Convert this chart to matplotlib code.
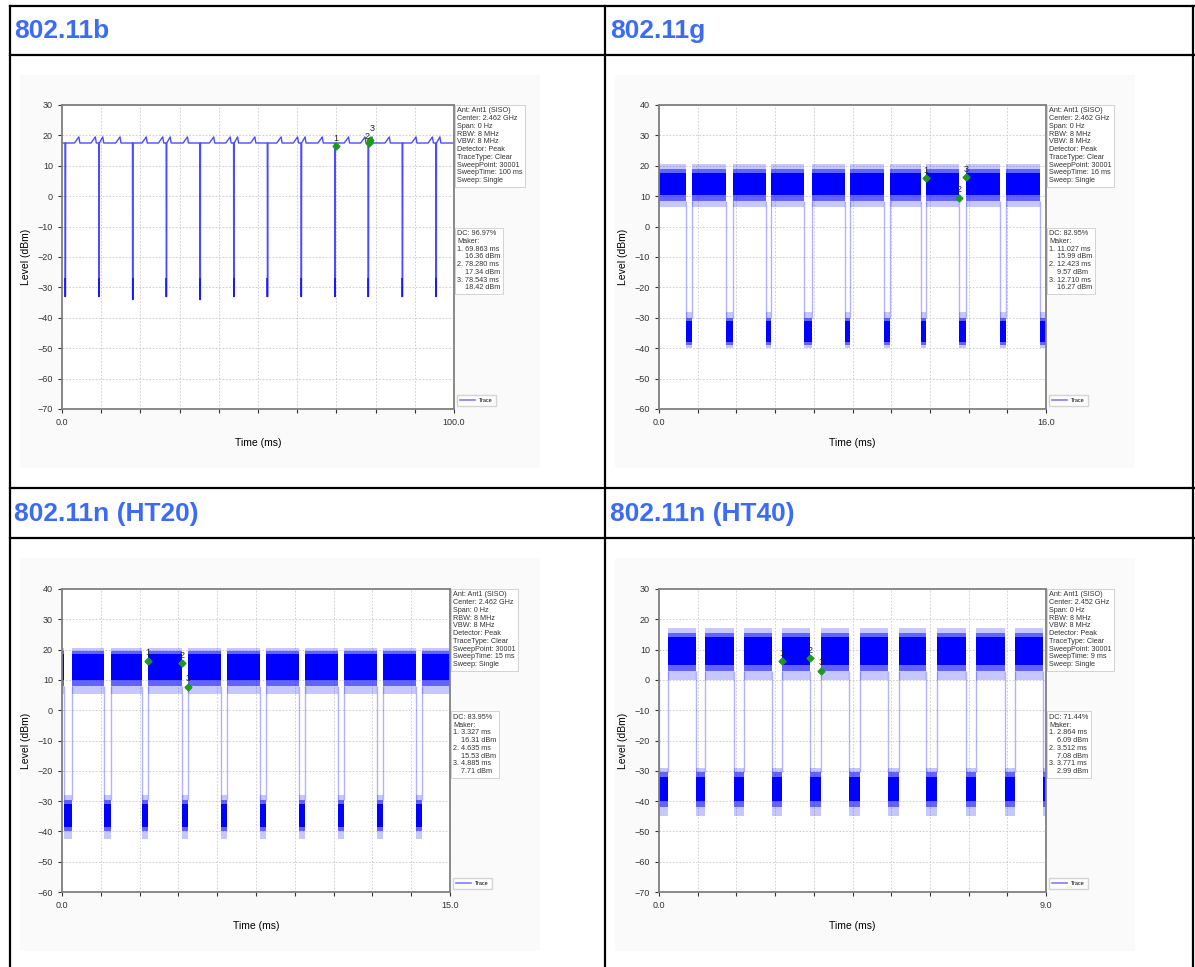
import matplotlib.pyplot as plt
from matplotlib.lines import Line2D
from matplotlib.patches import Rectangle

plt.rcParams['font.family'] = ['Liberation Sans', 'DejaVu Sans']

W, H = 1195, 967
BLUE = '#0000ff'
MARK = '#1c9a1c'

# ---- 802.11b (100 ms sweep): flat carrier with short dips ----
b_dips = [0.8, 9.4, 18.0, 26.6, 35.2, 43.8, 52.4, 61.0, 69.6, 78.1, 86.8, 95.4]
b_dip_floor = [-33, -33, -34, -33, -34, -33, -33, -33, -33, -33, -33, -33]
b_bumps = [4.3, 8.5, 10.4, 14.8, 21.5, 25.7, 27.6, 32.0, 38.7, 42.9, 44.8, 49.2,
           55.9, 60.1, 62.0, 66.4, 73.1, 77.3, 79.1, 83.5, 90.3, 94.5, 96.4]
b_base, b_peak = 17.5, 19.5

# ---- bursty traces: (gap start, gap end) in ms ----
g_gaps = [(1.12, 1.37), (2.77, 3.05), (4.43, 4.63), (6.00, 6.32), (7.70, 7.90),
          (9.31, 9.56), (10.85, 11.027), (12.423, 12.710), (14.11, 14.36), (15.76, 16.0)]
ht20_gaps = [(0.08, 0.37), (1.62, 1.88), (3.10, 3.327), (4.635, 4.885), (6.16, 6.38),
             (7.66, 7.90), (9.16, 9.40), (10.66, 10.90), (12.18, 12.42), (13.68, 13.92)]
ht40_gaps = [(0.0, 0.22), (0.86, 1.08), (1.74, 1.98), (2.62, 2.864), (3.512, 3.771),
             (4.42, 4.67), (5.32, 5.57), (6.22, 6.47), (7.13, 7.38), (8.04, 8.29),
             (8.93, 9.0)]

# level bands (dBm): spike low, sparse low, dense low, dense high, sparse high, spike high
g_on = (6.5, 8.5, 10.5, 17.5, 19, 20.5)
g_off = (-40, -39, -38, -31, -30, -28)
ht20_on = (5.5, 8, 10, 18.5, 19.5, 20.5)
ht20_off = (-42.5, -40, -38.5, -31, -29.5, -28)
ht40_on = (0, 3, 5, 14, 15.5, 17)
ht40_off = (-45, -42, -40, -32, -30.5, -29)

# markers: (time ms, level dBm)
b_marks = [(69.863, 16.36), (78.280, 17.34), (78.543, 18.42)]
g_marks = [(11.027, 15.99), (12.423, 9.57), (12.710, 16.27)]
ht20_marks = [(3.327, 16.31), (4.635, 15.53), (4.885, 7.71)]
ht40_marks = [(2.864, 6.09), (3.512, 7.08), (3.771, 2.99)]

dc = ['96.97%', '82.95%', '83.95%', '71.44%']
center = ['2.462 GHz', '2.462 GHz', '2.462 GHz', '2.452 GHz']
sweep_ms = [100, 16, 15, 9]
titles = ['802.11b', '802.11g', '802.11n (HT20)', '802.11n (HT40)']
ylims = [(-70, 30), (-60, 40), (-60, 40), (-70, 30)]

fig = plt.figure(figsize=(W / 100, H / 100), dpi=100)


def fx(x):
    return x / W


def fy(y):
    return 1 - y / H


def hline(y, x0, x1):
    fig.add_artist(Line2D([fx(x0), fx(x1)], [fy(y), fy(y)], color='black', lw=1.6))


def vline(x, y0, y1):
    fig.add_artist(Line2D([fx(x), fx(x)], [fy(y0), fy(y1)], color='black', lw=1.6))


# table grid
hline(6, 10, 1195)
hline(55, 10, 1195)
hline(488, 10, 1195)
hline(538, 10, 1195)
vline(10, 6, 967)
vline(605, 6, 967)
vline(1193, 6, 967)

header_pos = [(14, 31), (610, 31), (14, 514), (610, 514)]
for (hx, hy), t in zip(header_pos, titles):
    fig.text(fx(hx), fy(hy), t, fontsize=19, fontweight='bold', color='#3d6cf4',
             va='center', ha='left')

# light backdrop of each chart image
for (x0, y0) in [(20, 75), (615, 75), (20, 558), (615, 558)]:
    fig.add_artist(Rectangle((fx(x0), fy(y0 + 393)), 520 / W, 393 / H,
                             transform=fig.transFigure, fc='#fafafa', ec='none', zorder=0))

axes_px = [(62, 105, 454, 409), (659, 105, 1046, 409),
           (62, 589, 450, 892), (659, 589, 1046, 892)]


def make_axes(i):
    x0, y0, x1, y1 = axes_px[i]
    ax = fig.add_axes([fx(x0), fy(y1), (x1 - x0) / W, (y1 - y0) / H])
    xmax = sweep_ms[i]
    ax.set_xlim(0, xmax)
    ax.set_ylim(*ylims[i])
    xt = [xmax * k / 10 for k in range(11)]
    ax.set_xticks(xt)
    ax.set_xticklabels([f'{t:.1f}' if k in (0, 10) else '' for k, t in enumerate(xt)])
    ax.set_yticks(range(ylims[i][0], ylims[i][1] + 1, 10))
    ax.grid(True, color='#c8c8c8', ls=(0, (2, 2)), lw=0.6)
    ax.set_axisbelow(True)
    ax.tick_params(labelsize=6.5, colors='#333333', length=3, width=0.8)
    for s in ax.spines.values():
        s.set_color('#808080')
        s.set_linewidth(1.3)
    ax.set_facecolor('white')
    ax.set_xlabel('Time (ms)', fontsize=7.5, labelpad=8)
    ax.set_ylabel('Level (dBm)', fontsize=7.5, labelpad=5)

    info = (f'Ant: Ant1 (SISO)\nCenter: {center[i]}\nSpan: 0 Hz\nRBW: 8 MHz\nVBW: 8 MHz\n'
            f'Detector: Peak\nTraceType: Clear\nSweepPoint: 30001\n'
            f'SweepTime: {sweep_ms[i]} ms\nSweep: Single')
    ax.text(1.008, 0.992, info, transform=ax.transAxes, va='top', ha='left',
            fontsize=5.2, color='#333333', linespacing=1.15,
            bbox=dict(boxstyle='square,pad=0.35', fc='white', ec='#cccccc', lw=0.6))
    return ax


def add_markers(ax, marks, i, offsets=None):
    lines = [f'DC: {dc[i]}', 'Maker:']
    for n, (t, v) in enumerate(marks, 1):
        dx, dy = offsets[n - 1] if offsets else (0, 2.5)
        ax.plot(t, v, 'D', color=MARK, ms=3.5, zorder=5)
        ax.annotate(str(n), (t, v), xytext=(dx, dy), textcoords='offset points',
                    ha='center', va='bottom', fontsize=6.5, color='#222222', zorder=6)
        lines.append(f'{n}. {t:.3f} ms')
        lines.append(f'    {v:.2f} dBm')
    ax.text(1.008, 0.588, '\n'.join(lines), transform=ax.transAxes, va='top', ha='left',
            fontsize=5.2, color='#333333', linespacing=1.15,
            bbox=dict(boxstyle='square,pad=0.35', fc='white', ec='#cccccc', lw=0.6))


def add_legend(ax):
    ax.legend(handles=[Line2D([], [], color=BLUE, alpha=0.5, lw=1.2)], labels=['Trace'],
              loc='lower left', bbox_to_anchor=(1.0, 0.0), fontsize=4,
              handlelength=2.6, frameon=True, edgecolor='#cccccc', fancybox=False,
              borderpad=0.6)


def draw_band(ax, t0, t1, band):
    s_lo, m_lo, c_lo, c_hi, m_hi, s_hi = band
    ax.fill_between([t0, t1], s_lo, s_hi, color=BLUE, alpha=0.22, lw=0)
    ax.fill_between([t0, t1], m_lo, m_hi, color=BLUE, alpha=0.5, lw=0)
    ax.fill_between([t0, t1], c_lo, c_hi, color=BLUE, lw=0)


def draw_bursts(ax, gaps, xmax, on, off):
    edges = [0.0] + [t for g in gaps for t in g] + [xmax]
    for s, e in zip(edges[::2], edges[1::2]):
        if e > s:
            draw_band(ax, s, e, on)
    for s, e in gaps:
        draw_band(ax, s, e, off)
        ax.vlines([s, e], off[4], on[1], color=BLUE, alpha=0.3, lw=1)


# 802.11b trace
ax = make_axes(0)
pts = []
for t in b_bumps:
    pts += [(t - 1.1, b_base), (t, b_peak), (t + 0.25, b_base)]
for t, fl in zip(b_dips, b_dip_floor):
    pts += [(t - 0.03, b_base), (t, fl), (t + 0.1, fl), (t + 0.13, b_base)]
pts = sorted(p for p in pts if 0 <= p[0] <= 100)
tx = [0.0] + [p[0] for p in pts] + [100.0]
ty = [b_base] + [p[1] for p in pts] + [b_base]
ax.plot(tx, ty, color=BLUE, alpha=0.7, lw=1)
ax.vlines(b_dips, b_dip_floor, [-27] * len(b_dips), color=BLUE, lw=1.2, alpha=0.8)
add_markers(ax, b_marks, 0, offsets=[(0, 2.5), (-1.5, 1.5), (1.5, 5.5)])
add_legend(ax)

# 802.11g
ax = make_axes(1)
draw_bursts(ax, g_gaps, 16, g_on, g_off)
add_markers(ax, g_marks, 1)
add_legend(ax)

# 802.11n HT20
ax = make_axes(2)
draw_bursts(ax, ht20_gaps, 15, ht20_on, ht20_off)
add_markers(ax, ht20_marks, 2)
add_legend(ax)

# 802.11n HT40
ax = make_axes(3)
draw_bursts(ax, ht40_gaps, 9, ht40_on, ht40_off)
add_markers(ax, ht40_marks, 3)
add_legend(ax)

fig.savefig('out.png', dpi=100, facecolor='white')
